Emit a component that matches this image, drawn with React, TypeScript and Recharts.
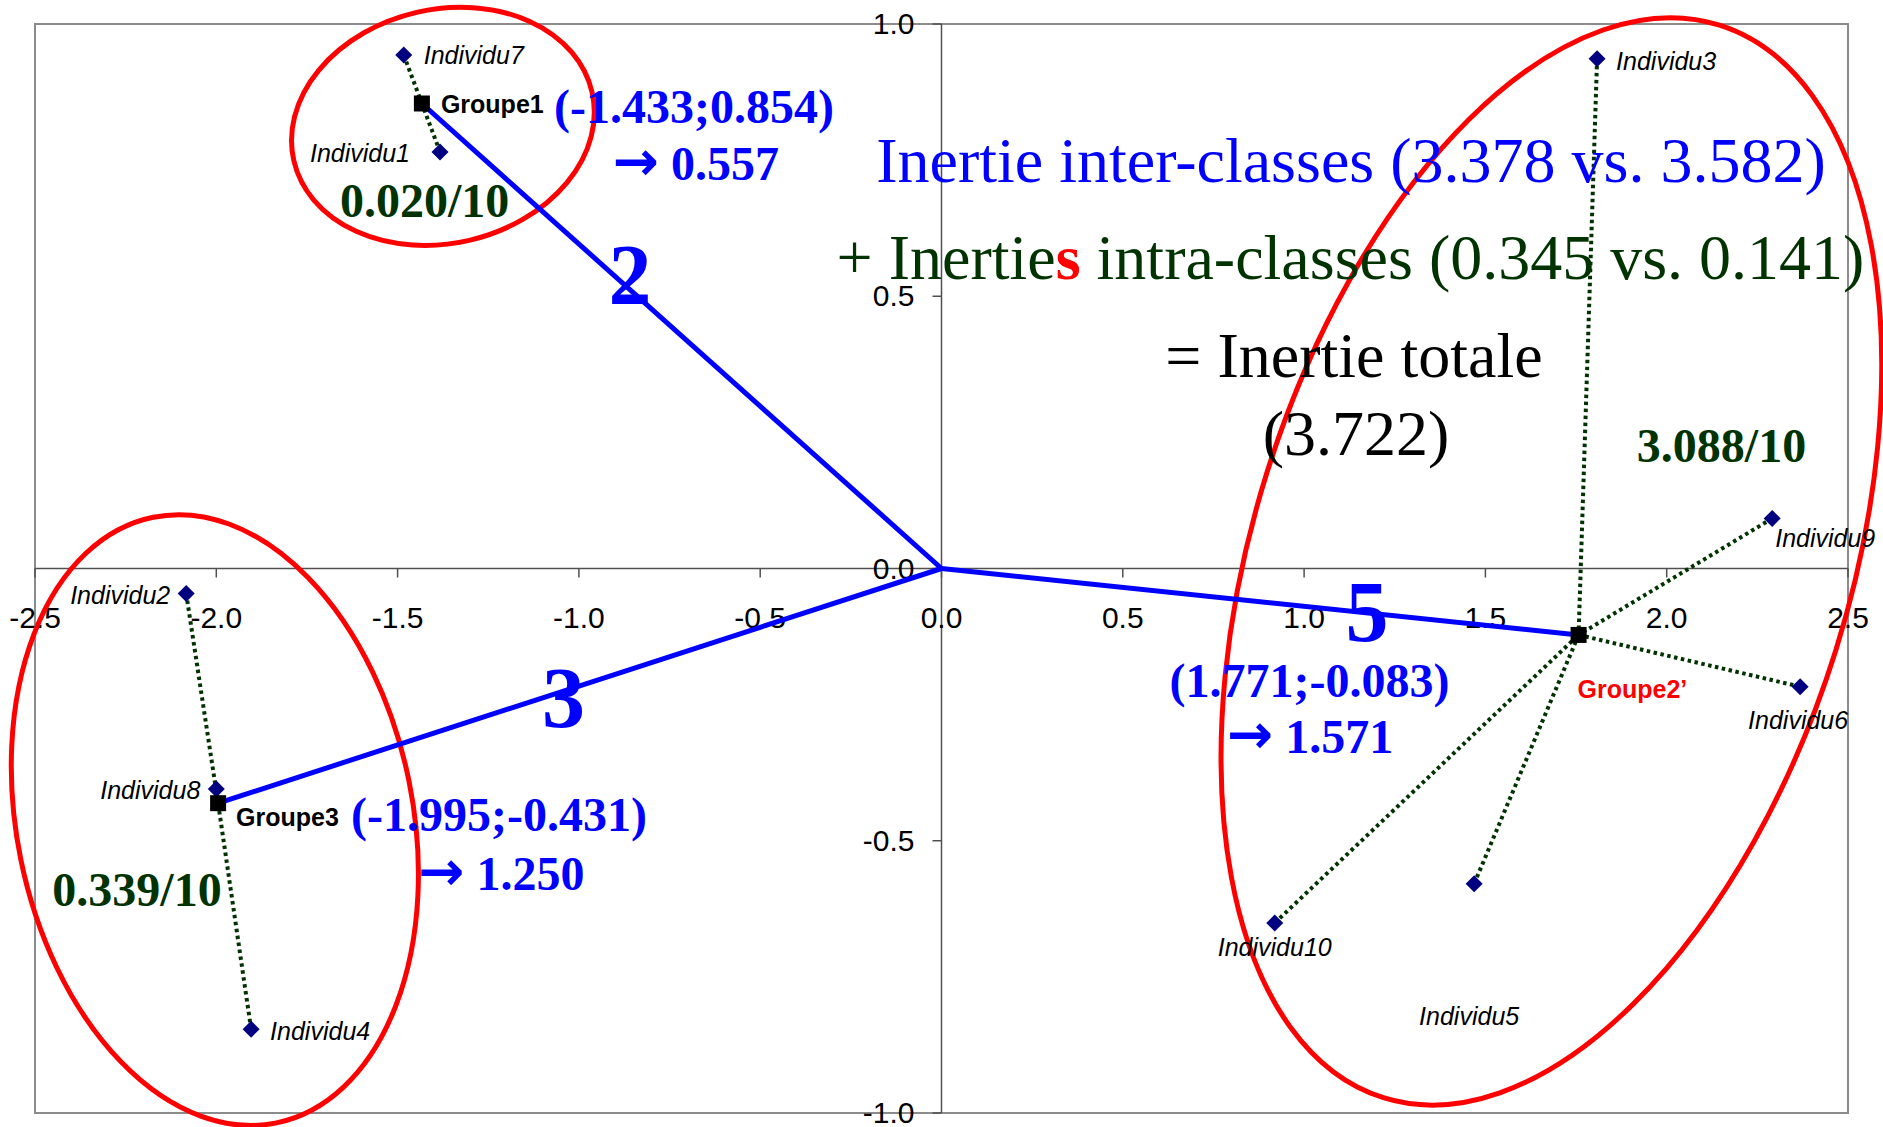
import React from 'react';
import {
  ScatterChart,
  Scatter,
  XAxis,
  YAxis,
  ReferenceLine,
  ReferenceDot,
  ReferenceArea,
} from 'recharts';

// ---------------- data ----------------
const individualNames = [
  'Individu1', 'Individu2', 'Individu3', 'Individu4', 'Individu5',
  'Individu6', 'Individu7', 'Individu8', 'Individu9', 'Individu10',
];
const individualX = [-1.383, -2.083, 1.808, -1.904, 1.469, 2.368, -1.483, -2.0, 2.291, 0.919];
const individualY = [0.765, -0.046, 0.936, -0.846, -0.579, -0.217, 0.943, -0.405, 0.092, -0.651];
const individualGroup = [0, 2, 1, 2, 1, 1, 0, 2, 1, 1];

const groupNames = ['Groupe1', 'Groupe2\u2019', 'Groupe3'];
const groupX = [-1.433, 1.757, -1.995];
const groupY = [0.854, -0.122, -0.431];

const xTicks = [-2.5, -2.0, -1.5, -1.0, -0.5, 0.0, 0.5, 1.0, 1.5, 2.0, 2.5];
const yTicks = [-1.0, -0.5, 0.0, 0.5, 1.0];

// ellipse centres (data units), one per group
const ellipseCenterX = [-1.375, 1.682, -2.004];
const ellipseCenterY = [0.812, 0.013, -0.462];

// ---------------- styles ----------------
const W = 1883;
const H = 1127;
const SANS = '"Liberation Sans", Arial, Helvetica, sans-serif';
const SERIF = '"Liberation Serif", "Times New Roman", Times, serif';
const ARROW_FONT = '"DejaVu Sans", "Liberation Sans", sans-serif';
const BLUE = '#0000FF';
const GREEN = '#003300';
const RED = '#FF0000';
const NAVY = '#000080';
const AXIS = '#505050';

const ellipseStyle = [
  { rx: 153, ry: 117, rot: -13 },
  { rx: 298, ry: 562, rot: 17.4 },
  { rx: 198, ry: 309, rot: -11.5 },
];

const individualLabelStyle: Record<string, { dx: number; dy: number; anchor: string }> = {
  Individu1: { dx: -30, dy: 10, anchor: 'end' },
  Individu2: { dx: -16, dy: 10, anchor: 'end' },
  Individu3: { dx: 19, dy: 11, anchor: 'start' },
  Individu4: { dx: 19, dy: 11, anchor: 'start' },
  Individu5: { dx: -5, dy: 141, anchor: 'middle' },
  Individu6: { dx: -2, dy: 42, anchor: 'middle' },
  Individu7: { dx: 20, dy: 9, anchor: 'start' },
  Individu8: { dx: -16, dy: 10, anchor: 'end' },
  Individu9: { dx: 3, dy: 29, anchor: 'start' },
  Individu10: { dx: 0, dy: 33, anchor: 'middle' },
};

const groupLabelStyle = [
  { dx: 19, dy: 10, color: '#000' },
  { dx: -1, dy: 63, color: RED },
  { dx: 18, dy: 23, color: '#000' },
];

type Part = { t: string; color?: string; bold?: boolean; arrow?: boolean };
type Annotation = { parts: Part[]; x: number; y: number; size: number; bold: boolean; color: string };

const ARROW: Part = { t: '\u2192', arrow: true };

const annotations: Annotation[] = [
  { parts: [{ t: '(-1.433;0.854)' }], x: -0.6826, y: 0.8182, size: 48, bold: true, color: BLUE },
  { parts: [ARROW, { t: ' 0.557' }], x: -0.6771, y: 0.7135, size: 48, bold: true, color: BLUE },
  { parts: [{ t: '0.020/10' }], x: -1.4253, y: 0.6461, size: 48, bold: true, color: GREEN },
  { parts: [{ t: '2' }], x: -0.8591, y: 0.4858, size: 86, bold: true, color: BLUE },
  { parts: [{ t: '3' }], x: -1.0425, y: -0.2911, size: 86, bold: true, color: BLUE },
  { parts: [{ t: '5' }], x: 1.1735, y: -0.1331, size: 86, bold: true, color: BLUE },
  { parts: [{ t: '(-1.995;-0.431)' }], x: -1.2204, y: -0.4821, size: 48, bold: true, color: BLUE },
  { parts: [ARROW, { t: ' 1.250' }], x: -1.2135, y: -0.5904, size: 48, bold: true, color: BLUE },
  { parts: [{ t: '0.339/10' }], x: -2.2187, y: -0.6199, size: 48, bold: true, color: GREEN },
  { parts: [{ t: '(1.771;-0.083)' }], x: 1.0149, y: -0.236, size: 48, bold: true, color: BLUE },
  { parts: [ARROW, { t: ' 1.571' }], x: 1.0163, y: -0.3388, size: 48, bold: true, color: BLUE },
  { parts: [{ t: '3.088/10' }], x: 2.1511, y: 0.1947, size: 48, bold: true, color: GREEN },
  { parts: [{ t: 'Inertie inter-classes (3.378 vs. 3.582)' }], x: 1.1293, y: 0.7104, size: 64, bold: false, color: BLUE },
  {
    parts: [
      { t: '+ Inertie' },
      { t: 's', color: RED, bold: true },
      { t: ' intra-classes (0.345 vs. 0.141)' },
    ],
    x: 1.128, y: 0.5311, size: 64, bold: false, color: GREEN,
  },
  { parts: [{ t: '= Inertie totale' }], x: 1.1376, y: 0.3508, size: 64, bold: false, color: '#000' },
  { parts: [{ t: '(3.722)' }], x: 1.1431, y: 0.2084, size: 64, bold: false, color: '#000' },
];

// ---------------- derived tables ----------------
const individuals = individualNames.map((name, i) => ({
  name,
  x: individualX[i],
  y: individualY[i],
  g: individualGroup[i],
}));
const groups = groupNames.map((name, i) => ({ name, x: groupX[i], y: groupY[i], i }));

// ---------------- shapes ----------------
const DiamondShape = (props: any) => {
  const { cx, cy, payload } = props;
  if (cx == null || cy == null) return <g />;
  const ls = individualLabelStyle[payload.name];
  const s = 8.5;
  return (
    <g>
      <polygon
        points={`${cx},${cy - s} ${cx + s},${cy} ${cx},${cy + s} ${cx - s},${cy}`}
        fill={NAVY}
      />
      <text
        x={cx + ls.dx}
        y={cy + ls.dy}
        textAnchor={ls.anchor as any}
        fontFamily={SANS}
        fontStyle="italic"
        fontSize={25}
        fill="#000"
      >
        {payload.name}
      </text>
    </g>
  );
};

const SquareShape = (props: any) => {
  const { cx, cy, payload } = props;
  if (cx == null || cy == null) return <g />;
  const ls = groupLabelStyle[payload.i];
  const s = 8;
  return (
    <g>
      <rect x={cx - s} y={cy - s} width={2 * s} height={2 * s} fill="#000" />
      <text
        x={cx + ls.dx}
        y={cy + ls.dy}
        fontFamily={SANS}
        fontWeight="bold"
        fontSize={25}
        fill={ls.color}
      >
        {payload.name}
      </text>
    </g>
  );
};

const xTickShape = (label: string) => (props: any) => {
  const { cx, cy } = props;
  return (
    <g>
      <line x1={cx} y1={cy} x2={cx} y2={cy + 9} stroke={AXIS} strokeWidth={1.5} />
      <text x={cx} y={cy + 59} textAnchor="middle" fontFamily={SANS} fontSize={30} fill="#000">
        {label}
      </text>
    </g>
  );
};

const yTickShape = (label: string) => (props: any) => {
  const { cx, cy } = props;
  return (
    <g>
      <line x1={cx - 9} y1={cy} x2={cx} y2={cy} stroke={AXIS} strokeWidth={1.5} />
      <text x={cx - 27} y={cy + 10} textAnchor="end" fontFamily={SANS} fontSize={30} fill="#000">
        {label}
      </text>
    </g>
  );
};

const ellipseShape = (i: number) => (props: any) => {
  const { cx, cy } = props;
  const e = ellipseStyle[i];
  return (
    <ellipse
      cx={cx}
      cy={cy}
      rx={e.rx}
      ry={e.ry}
      transform={`rotate(${e.rot} ${cx} ${cy})`}
      fill="none"
      stroke={RED}
      strokeWidth={5}
    />
  );
};

const annotationShape = (a: Annotation) => (props: any) => {
  const { cx, cy } = props;
  return (
    <text
      x={cx}
      y={cy}
      textAnchor="middle"
      fontFamily={SERIF}
      fontSize={a.size}
      fontWeight={a.bold ? 'bold' : 'normal'}
      fill={a.color}
    >
      {a.parts.map((p, k) =>
        p.arrow ? (
          <tspan key={k} fontFamily={ARROW_FONT} fontWeight="bold" fontSize={a.size * 1.15}>
            {p.t}
          </tspan>
        ) : (
          <tspan key={k} fill={p.color || a.color} fontWeight={p.bold ? 'bold' : undefined}>
            {p.t}
          </tspan>
        )
      )}
    </text>
  );
};

const fmt = (v: number) => v.toFixed(1);

export default function App() {
  return (
    <div style={{ position: 'absolute', left: 0, top: 0, width: W, height: H, background: '#fff' }}>
      <ScatterChart width={W} height={H} margin={{ top: 24, right: 35, bottom: 14, left: 35 }}>
        <XAxis type="number" dataKey="x" domain={[-2.5, 2.5]} hide />
        <YAxis type="number" dataKey="y" domain={[-1, 1]} hide />

        <ReferenceArea
          x1={-2.5}
          x2={2.5}
          y1={-1}
          y2={1}
          fill="none"
          fillOpacity={0}
          stroke="#8c8c8c"
          strokeWidth={2}
          ifOverflow="visible"
          zIndex={10}
        />
        <ReferenceLine y={0} stroke={AXIS} strokeWidth={1.5} ifOverflow="visible" zIndex={20} />
        <ReferenceLine x={0} stroke={AXIS} strokeWidth={1.5} ifOverflow="visible" zIndex={20} />

        {xTicks.map((v) => (
          <ReferenceDot
            key={`xt${v}`}
            x={v}
            y={0}
            r={0}
            ifOverflow="visible"
            shape={xTickShape(fmt(v))}
            zIndex={30}
          />
        ))}
        {yTicks.map((v) => (
          <ReferenceDot
            key={`yt${v}`}
            x={0}
            y={v}
            r={0}
            ifOverflow="visible"
            shape={yTickShape(fmt(v))}
            zIndex={30}
          />
        ))}

        {ellipseCenterX.map((ex, i) => (
          <ReferenceDot
            key={`el${i}`}
            x={ex}
            y={ellipseCenterY[i]}
            r={0}
            ifOverflow="visible"
            shape={ellipseShape(i)}
            zIndex={40}
          />
        ))}

        {individuals.map((d) => (
          <ReferenceLine
            key={`gl${d.name}`}
            segment={[
              { x: d.x, y: d.y },
              { x: groupX[d.g], y: groupY[d.g] },
            ]}
            stroke={GREEN}
            strokeWidth={4}
            strokeDasharray="3.5 3.5"
            ifOverflow="visible"
            zIndex={50}
          />
        ))}

        {groups.map((g) => (
          <ReferenceLine
            key={`bl${g.name}`}
            segment={[
              { x: 0, y: 0 },
              { x: g.x, y: g.y },
            ]}
            stroke={BLUE}
            strokeWidth={5}
            ifOverflow="visible"
            zIndex={60}
          />
        ))}

        <Scatter
          name="Individus"
          data={individuals}
          dataKey="y"
          shape={DiamondShape}
          isAnimationActive={false}
          zIndex={70}
        />
        <Scatter
          name="Groupes"
          data={groups}
          dataKey="y"
          shape={SquareShape}
          isAnimationActive={false}
          zIndex={70}
        />

        {annotations.map((a, i) => (
          <ReferenceDot
            key={`an${i}`}
            x={a.x}
            y={a.y}
            r={0}
            ifOverflow="visible"
            shape={annotationShape(a)}
            zIndex={80}
          />
        ))}
      </ScatterChart>
    </div>
  );
}
